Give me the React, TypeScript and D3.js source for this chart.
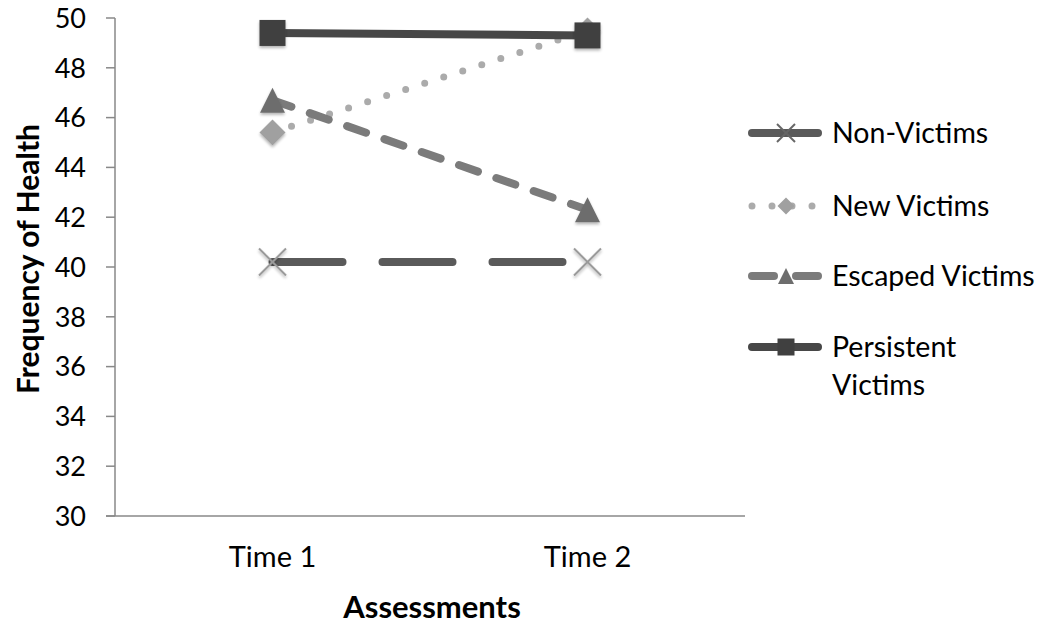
import React from "react";
import * as d3 from "d3";

const categories = ["Time 1", "Time 2"];
const seriesNames = ["Non-Victims", "New Victims", "Escaped Victims", "Persistent Victims"];
const nonVictims = [40.2, 40.2];
const newVictims = [45.4, 49.5];
const escapedVictims = [46.7, 42.3];
const persistentVictims = [49.4, 49.3];
const yTicks = [30, 32, 34, 36, 38, 40, 42, 44, 46, 48, 50];

const W = 1046, H = 625;
const left = 115, right = 745, top = 18, bottom = 516;
const FONT = "Lato, 'Open Sans', sans-serif";

type Style = { color: string; markerColor: string; dash: string; marker: string; size: number; width: number };
const styles: Style[] = [
  { color: "#5a5a5a", markerColor: "#9a9a9a", dash: "70 40", marker: "x", size: 27, width: 8 },
  { color: "#ababab", markerColor: "#a0a0a0", dash: "0 20", marker: "diamond", size: 26, width: 7 },
  { color: "#7b7b7b", markerColor: "#6d6d6d", dash: "20 19.5", marker: "triangle", size: 25, width: 8 },
  { color: "#474747", markerColor: "#404040", dash: "", marker: "square", size: 26, width: 8 },
];

function Marker({ type, x, y, color, s }: { type: string; x: number; y: number; color: string; s: number }) {
  const h = s / 2;
  if (type === "x") {
    return (
      <g stroke={color} strokeWidth={2}>
        <line x1={x - h} y1={y - h} x2={x + h} y2={y + h} />
        <line x1={x - h} y1={y + h} x2={x + h} y2={y - h} />
      </g>
    );
  }
  if (type === "diamond") {
    return <path d={`M${x},${y - h}L${x + h},${y}L${x},${y + h}L${x - h},${y}Z`} fill={color} />;
  }
  if (type === "triangle") {
    return <path d={`M${x},${y - h}L${x + h},${y + h}L${x - h},${y + h}Z`} fill={color} />;
  }
  return <rect x={x - h} y={y - h} width={s} height={s} fill={color} />;
}

export default function App() {
  const x = d3.scaleBand<string>().domain(categories).range([left, right]);
  const y = d3.scaleLinear().domain([30, 50]).range([bottom, top]);
  const data = [nonVictims, newVictims, escapedVictims, persistentVictims];
  const cx = (i: number) => (x(categories[i]) as number) + x.bandwidth() / 2;
  const line = d3
    .line<number>()
    .x((_, i) => cx(i))
    .y((d) => y(d));
  const legendY = [133, 206, 276, 347];
  const legendMarker = [18, 17, 16, 17];

  return (
    <svg width={W} height={H} style={{ position: "absolute", left: 0, top: 0, background: "#fff" }}>
      <defs>
        <filter id="sh" x="-50%" y="-50%" width="200%" height="200%">
          <feGaussianBlur in="SourceAlpha" stdDeviation="1.5" />
          <feOffset dy="2" result="b" />
          <feComponentTransfer><feFuncA type="linear" slope="0.3" /></feComponentTransfer>
          <feMerge><feMergeNode /><feMergeNode in="SourceGraphic" /></feMerge>
        </filter>
      </defs>
      {/* y axis */}
      <line x1={left} y1={top} x2={left} y2={bottom} stroke="#888" strokeWidth={1.5} />
      {yTicks.map((t) => (
        <g key={t}>
          <line x1={left - 9} x2={left} y1={y(t)} y2={y(t)} stroke="#888" strokeWidth={1.5} />
          <text x={left - 29} y={y(t)} dy="0.36em" textAnchor="end" fontFamily={FONT} fontSize={27} fill="#000">
            {t}
          </text>
        </g>
      ))}
      <line x1={left - 9} y1={bottom} x2={right} y2={bottom} stroke="#888" strokeWidth={1.5} />
      {categories.map((c, i) => (
        <text key={c} x={cx(i)} y={567} textAnchor="middle" fontFamily={FONT} fontSize={29} fill="#000">
          {c}
        </text>
      ))}
      <text x={432} y={618} textAnchor="middle" fontFamily={FONT} fontSize={31} fontWeight="bold" fill="#000">
        Assessments
      </text>
      <text transform={`translate(39,259) rotate(-90)`} textAnchor="middle" fontFamily={FONT} fontSize={30} fontWeight="bold" fill="#000">
        Frequency of Health
      </text>

      {/* lines */}
      {data.map((vals, si) => (
        <path
          key={si}
          d={line(vals) as string}
          fill="none"
          stroke={styles[si].color}
          strokeWidth={styles[si].width}
          strokeDasharray={styles[si].dash || undefined}
          strokeLinecap={styles[si].dash ? "round" : "butt"}
        />
      ))}
      {data.map((vals, si) =>
        vals.map((v, i) => (
          <g key={`${si}-${i}`} filter="url(#sh)">
            <Marker type={styles[si].marker} x={cx(i)} y={y(v)} color={styles[si].markerColor} s={styles[si].size} />
          </g>
        ))
      )}

      {/* legend */}
      {seriesNames.map((n, si) => {
        const ly = legendY[si];
        const st = styles[si];
        return (
          <g key={n}>
            {si === 1 ? (
              <line x1={752} x2={813} y1={ly} y2={ly} stroke={st.color} strokeWidth={7} strokeDasharray="0 20" strokeLinecap="round" />
            ) : si === 2 ? (
              <g>
                <line x1={752} x2={774} y1={ly} y2={ly} stroke={st.color} strokeWidth={8} strokeLinecap="round" />
                <line x1={796} x2={818} y1={ly} y2={ly} stroke={st.color} strokeWidth={8} strokeLinecap="round" />
              </g>
            ) : (
              <line x1={752} x2={818} y1={ly} y2={ly} stroke={st.color} strokeWidth={8} strokeLinecap="round" />
            )}
            <Marker type={st.marker} x={786} y={ly} color={si === 0 ? "#666" : st.markerColor} s={legendMarker[si]} />
            {si === 3 ? (
              <text x={832} y={357} fontFamily={FONT} fontSize={28.5} fill="#000">
                <tspan x={832}>Persistent</tspan>
                <tspan x={832} dy={38}>Victims</tspan>
              </text>
            ) : (
              <text x={832} y={ly + 10} fontFamily={FONT} fontSize={28.5} fill="#000">
                {n}
              </text>
            )}
          </g>
        );
      })}
    </svg>
  );
}
